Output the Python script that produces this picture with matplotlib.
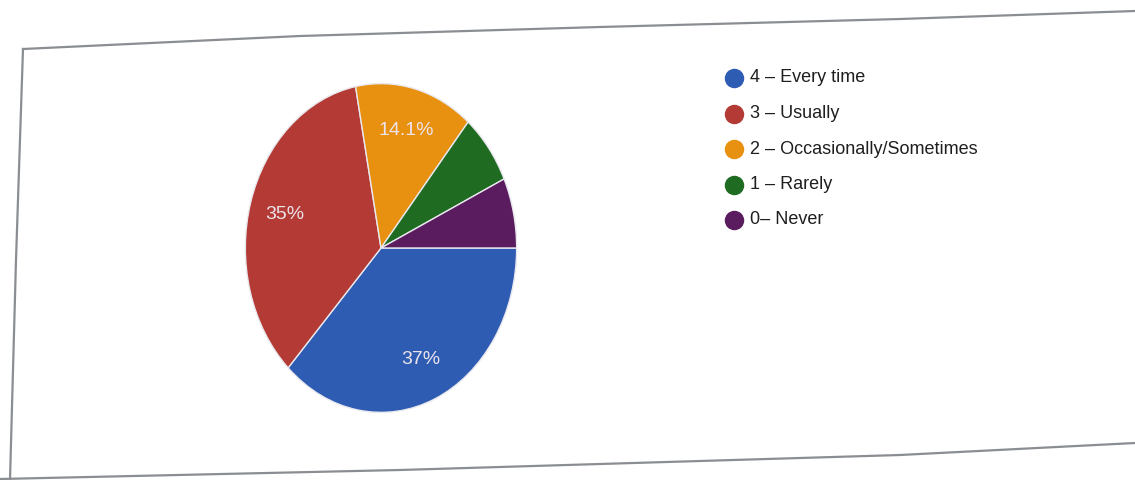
import matplotlib.pyplot as plt
from matplotlib.lines import Line2D
import numpy as np

categories = ["4 – Every time", "3 – Usually", "2 – Occasionally/Sometimes", "1 – Rarely", "0– Never"]
shares = [37.0, 35.0, 14.1, 7.0, 6.9]
pct_labels = ["37%", "35%", "14.1%", "", ""]
colors = ["#2f5cb3", "#b33a35", "#e8900f", "#1f6b22", "#5a1c5e"]

W, H = 1135, 480
fig = plt.figure(figsize=(W / 100, H / 100), dpi=100)
fig.patch.set_facecolor("white")

# card border (photo is slightly skewed)
def px(x, y):
    return x / W, 1 - y / H

top = [px(23, 49), px(300, 36), px(600, 27), px(900, 19), px(1135, 11)]
left = [px(23, 49), px(16, 260), px(10, 480)]
bottom = [px(0, 479), px(400, 470), px(900, 455), px(1135, 443)]
for pts in (top, left, bottom):
    xs, ys = zip(*pts)
    fig.add_artist(Line2D(xs, ys, color="#8a8d92", lw=1.6, transform=fig.transFigure))

# pie, stretched a bit vertically like the photo
cx, cy = 381 / W, 1 - 248 / H
pw, ph = 274 / W, 332 / H
ax = fig.add_axes([cx - pw / 2, cy - ph / 2, pw, ph])
wedges, _ = ax.pie(shares, colors=colors, startangle=0, counterclock=False,
                   wedgeprops=dict(edgecolor="#e8e8ee", linewidth=1.0))
ax.set_aspect("auto")
ax.set_xlim(-1.01, 1.01)
ax.set_ylim(-1.01, 1.01)
ax.axis("off")

# percentage labels placed on each wedge
angle = 0.0
for share, lab in zip(shares, pct_labels):
    mid = angle - share / 100 * 360 / 2
    angle -= share / 100 * 360
    if lab:
        r = 0.74
        ax.text(r * np.cos(np.radians(mid)), r * np.sin(np.radians(mid)), lab,
                ha="center", va="center", color="#ebe4ea", fontsize=14,
                family="Liberation Sans")

# legend
for i, (name, col) in enumerate(zip(categories, colors)):
    y = 78 + i * 35.5
    fig.add_artist(Line2D([734 / W], [1 - y / H], marker="o", markersize=13,
                          color=col, transform=fig.transFigure))
    fig.text(750 / W, 1 - y / H, name, ha="left", va="center", fontsize=13,
             color="#1f1f1f", family="Liberation Sans")

fig.savefig("out.png", dpi=100)
